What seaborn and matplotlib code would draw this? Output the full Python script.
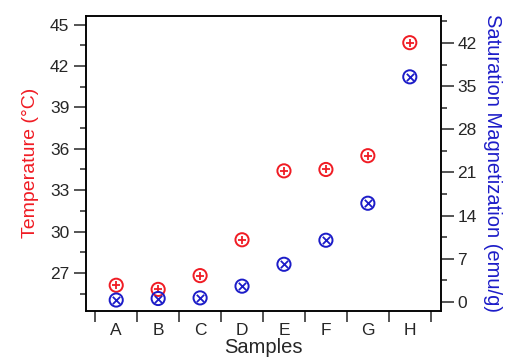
import matplotlib
matplotlib.use("Agg")
import matplotlib.pyplot as plt
import seaborn as sns
import pandas as pd
import numpy as np
from matplotlib.ticker import MultipleLocator, FixedLocator

sns.set_style("white")
plt.rcParams['font.family'] = ['Liberation Sans', 'DejaVu Sans']

samples = ["A", "B", "C", "D", "E", "F", "G", "H"]
temperature = [26.1, 25.8, 26.8, 29.4, 34.4, 34.5, 35.5, 43.7]
magnetization = [0.3, 0.55, 0.65, 2.55, 6.1, 10.0, 16.0, 36.5]

df = pd.DataFrame({"Sample": samples, "Temp": temperature, "Ms": magnetization})

RED = "#f01c24"
BLUE = "#1c1cc8"

fig = plt.figure(figsize=(5.12, 3.59), dpi=100)
ax = fig.add_axes([0.168, 0.134, 0.693, 0.822])
ax2 = ax.twinx()

sns.scatterplot(data=df, x="Sample", y="Temp", ax=ax, marker="o", s=90,
                facecolors="none", edgecolor=RED, linewidth=1.4, legend=False)
sns.scatterplot(data=df, x="Sample", y="Temp", ax=ax, marker="+", s=28,
                color=RED, linewidth=1.3, legend=False)
sns.scatterplot(data=df, x="Sample", y="Ms", ax=ax2, marker="o", s=90,
                facecolors="none", edgecolor=BLUE, linewidth=1.4, legend=False)
sns.scatterplot(data=df, x="Sample", y="Ms", ax=ax2, marker="x", s=28,
                color=BLUE, linewidth=1.3, legend=False)

ax.set_xlim(-0.72, 7.74)
ax.set_ylim(24.24, 45.65)
ax2.set_ylim(-1.46, 46.4)

ax.yaxis.set_major_locator(MultipleLocator(3))
ax.yaxis.set_minor_locator(MultipleLocator(1.5))
ax2.yaxis.set_major_locator(MultipleLocator(7))
ax2.yaxis.set_minor_locator(MultipleLocator(3.5))

ax.set_xticks(range(len(samples)))
ax.set_xticklabels(samples)
ax.xaxis.set_minor_locator(FixedLocator(np.arange(-0.5, len(samples), 1.0)))

for a in (ax, ax2):
    for sp in a.spines.values():
        sp.set_visible(True)
        sp.set_color("black")
        sp.set_linewidth(1.1)

ax.tick_params(axis="y", which="major", direction="out", length=9, width=1.1,
               labelsize=12.5, left=True, right=False, pad=3)
ax.tick_params(axis="y", which="minor", direction="out", length=4.5, width=1.1,
               left=True, right=False)
ax.tick_params(axis="x", which="major", length=0, labelsize=12.5, pad=9)
ax.tick_params(axis="x", which="minor", direction="out", length=8, width=1.1,
               bottom=True)
ax2.tick_params(axis="y", which="major", direction="out", length=9, width=1.1,
                labelsize=12.5, right=True, left=False, pad=3)
ax2.tick_params(axis="y", which="minor", direction="out", length=4.5, width=1.1,
                right=True, left=False)

ax.set_xlabel("Samples", fontsize=14.5, labelpad=0)
ax.set_ylabel("Temperature (°C)", fontsize=14, color=RED, labelpad=8)
ax2.set_ylabel("Saturation Magnetization (emu/g)", fontsize=14.5, color=BLUE,
               rotation=270, labelpad=18)

fig.savefig("out.png", dpi=100)
